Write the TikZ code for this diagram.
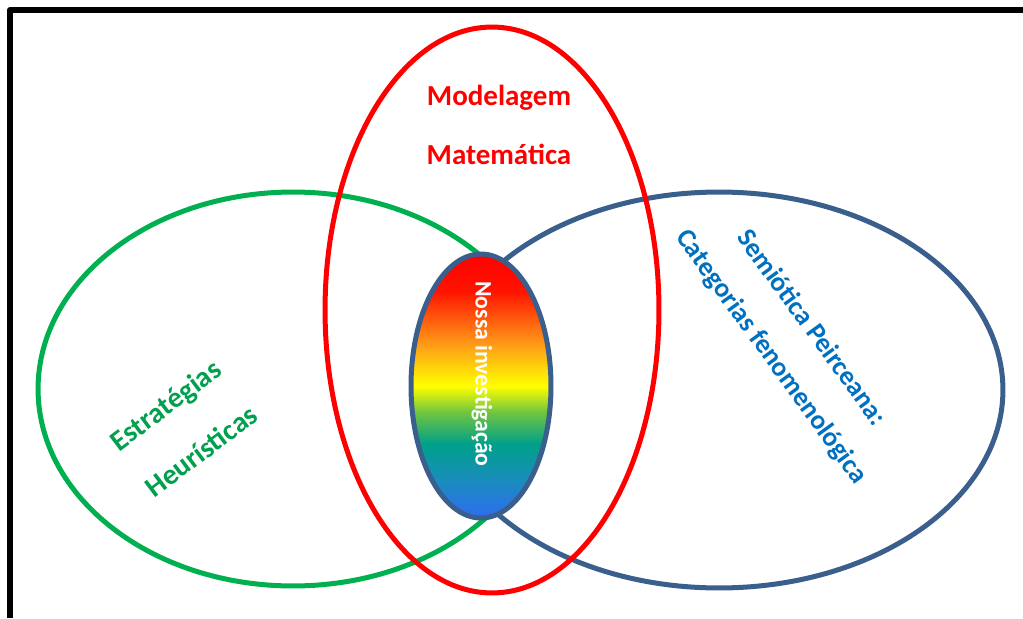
\documentclass[tikz,border=0pt]{standalone}
\usepackage{fontspec}
\setmainfont{Carlito}
\usetikzlibrary{shapes.geometric}

\definecolor{vred}{HTML}{FF0000}
\definecolor{vgreen}{HTML}{00B050}
\definecolor{vblue}{HTML}{3A5F8D}
\definecolor{tgreen}{HTML}{00A04E}
\definecolor{tblue}{HTML}{0070C0}
\definecolor{sblue}{HTML}{2F6CF2}
\definecolor{steal}{HTML}{1A8CBE}
\definecolor{sgreen}{HTML}{00A08A}
\definecolor{slime}{HTML}{70C440}
\definecolor{syellow}{HTML}{FFFF00}
\definecolor{sorange}{HTML}{FF9A18}
\definecolor{sred}{HTML}{FF0000}

\pgfdeclareverticalshading{rainbow}{100bp}{color(0bp)=(sblue); color(25bp)=(sblue);
  color(32bp)=(steal); color(39bp)=(sgreen); color(45bp)=(slime); color(50bp)=(syellow);
  color(58bp)=(sorange); color(68bp)=(sred!85!orange); color(75bp)=(sred); color(100bp)=(sred)}

\begin{document}
\begin{tikzpicture}[x=0.02cm, y=-0.02cm,
  ring/.style={ellipse, draw, line width=2.85pt, inner sep=0pt},
  hd/.style={font=\bfseries\fontsize{16.5}{18}\selectfont},
  sm/.style={font=\bfseries\fontsize{15.5}{17}\selectfont}
]
\useasboundingbox (0,0) rectangle (1023,618);
\draw[line width=3.4pt, line join=round] (10,618) -- (10,10) -- (1023,10);

% the three sets
\foreach \n/\x/\y/\w/\h/\c in {heur/293/389/10.2/7.88/vgreen, semi/719/390/11.36/7.92/vblue, model/492/310/6.68/11.32/vred}
  \node[ring, draw=\c, minimum width=\w cm, minimum height=\h cm] (\n) at (\x,\y) {};
\node[ring, draw=vblue, shading=rainbow, minimum width=2.8cm, minimum height=5.28cm] (nossa) at (481,386) {};

% labels
\node[hd, text=vred] (modA) at (499,98) {Modelagem};
\node[hd, text=vred] (modB) at (499,154) {Matemática};
\node[sm, text=tblue, rotate=-54] (semA) at (813,327) {Semiótica Peirceana:};
\node[sm, text=tblue, rotate=-54] (semB) at (771,357) {Categorias fenomenológica};
\node[hd, text=tgreen, rotate=37] (heuA) at (167,407) {Estratégias};
\node[hd, text=tgreen, rotate=37] (heuB) at (201,451) {Heurísticas};
\node[font=\bfseries\fontsize{13.5}{16}\selectfont, text=white, rotate=-90] (nossaT) at (482,374) {Nossa investigação};
\end{tikzpicture}
\end{document}
